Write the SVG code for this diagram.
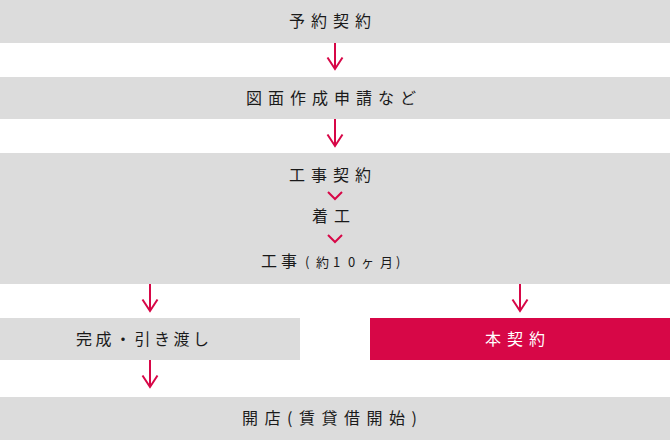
<svg xmlns="http://www.w3.org/2000/svg" width="670" height="440" viewBox="0 0 670 440">
<defs>
<style>
.box{fill:#dcdcdc}
.red{fill:#d70747}
.t{font-family:"Noto Sans CJK JP","Noto Sans",sans-serif;font-size:16px;fill:#1a1a1a;letter-spacing:6px}
.w{fill:#fff}
.s{font-size:13px;letter-spacing:0}
.c{fill:none;stroke:#d70747;stroke-width:2}
</style>
</defs>
<rect width="670" height="440" fill="#fff"/>
<g id="n1"><rect class="box" x="0" y="0" width="670" height="43"/><text class="t" x="289" y="27">予約契約</text></g>
<g id="n2"><rect class="box" x="0" y="77" width="670" height="42"/><text class="t" x="246" y="104">図面作成申請など</text></g>
<g id="n3"><rect class="box" x="0" y="153" width="670" height="131"/>
<text class="t" x="289" y="181">工事契約</text>
<text class="t" x="312" y="222">着工</text>
<text class="t" y="267"><tspan x="261">工</tspan><tspan x="281">事</tspan><tspan class="s" x="305">(</tspan><tspan class="s" x="316">約</tspan><tspan class="s" x="333">1</tspan><tspan class="s" x="348">0</tspan><tspan class="s" x="361">ヶ</tspan><tspan class="s" x="380">月</tspan><tspan class="s" x="396">)</tspan></text>
<polyline class="c" points="328,192 335,199 342,192"/>
<polyline class="c" points="328,235 335,242 342,235"/>
</g>
<g id="n4"><rect class="box" x="0" y="318" width="300" height="42"/><text class="t" x="76" y="345" style="letter-spacing:3.5px">完成・引き渡し</text></g>
<g id="n5"><rect class="red" x="370" y="318" width="300" height="42"/><text class="t w" x="485" y="345">本契約</text></g>
<g id="n6"><rect class="box" x="0" y="397" width="670" height="43"/><text class="t" x="242" y="424" style="letter-spacing:6.5px">開店(賃貸借開始)</text></g>
<g id="connectors">
<path class="c" d="M335 43V69M327.5 57.5L335 69L342.5 57.5"/>
<path class="c" d="M335 119V146M327.5 134.5L335 146L342.5 134.5"/>
<path class="c" d="M150 284V311M142.5 299.5L150 311L157.5 299.5"/>
<path class="c" d="M520 284V311M512.5 299.5L520 311L527.5 299.5"/>
<path class="c" d="M150 360V387M142.5 375.5L150 387L157.5 375.5"/>
</g>
</svg>
